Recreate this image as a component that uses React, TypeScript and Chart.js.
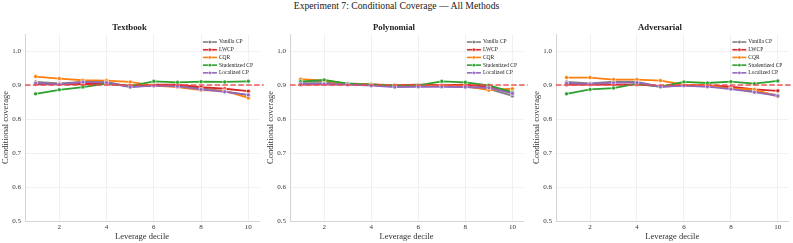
import React, { useEffect, useRef } from 'react';
import { Chart, registerables } from 'chart.js';

Chart.register(...registerables);

const FONT = '"Liberation Serif", "Times New Roman", serif';

const MAIN_TITLE = 'Experiment 7: Conditional Coverage — All Methods';
const PANEL_TITLES = ['Textbook', 'Polynomial', 'Adversarial'];
const X_LABEL = 'Leverage decile';
const Y_LABEL = 'Conditional coverage';

const DECILES = [1, 2, 3, 4, 5, 6, 7, 8, 9, 10];
const X_TICKS = [2, 4, 6, 8, 10];
const Y_TICKS = [0.5, 0.6, 0.7, 0.8, 0.9, 1.0];
const TARGET = 0.9;
const TARGET_SPAN = [0.55, 10.65];

const METHODS = ['Vanilla CP', 'LWCP', 'CQR', 'Studentized CP', 'Localized CP'];
const METHOD_COLORS = ['#7f7f7f', '#d62728', '#ff7f0e', '#2ca02c', '#9467bd'];

// Textbook
const TEXTBOOK_VANILLA = [0.909, 0.905, 0.909, 0.909, 0.895, 0.899, 0.898, 0.891, 0.881, 0.870];
const TEXTBOOK_LWCP = [0.902, 0.902, 0.903, 0.903, 0.898, 0.901, 0.901, 0.894, 0.889, 0.882];
const TEXTBOOK_CQR = [0.925, 0.919, 0.914, 0.913, 0.909, 0.898, 0.894, 0.885, 0.883, 0.862];
const TEXTBOOK_STUDENTIZED = [0.874, 0.886, 0.894, 0.904, 0.897, 0.911, 0.908, 0.910, 0.909, 0.911];
const TEXTBOOK_LOCALIZED = [0.905, 0.902, 0.909, 0.907, 0.894, 0.898, 0.896, 0.887, 0.880, 0.871];

// Polynomial
const POLY_VANILLA = [0.909, 0.909, 0.905, 0.902, 0.897, 0.897, 0.897, 0.895, 0.889, 0.868];
const POLY_LWCP = [0.901, 0.902, 0.902, 0.902, 0.900, 0.901, 0.900, 0.901, 0.895, 0.877];
const POLY_CQR = [0.917, 0.913, 0.904, 0.902, 0.898, 0.899, 0.898, 0.897, 0.885, 0.889];
const POLY_STUDENTIZED = [0.910, 0.915, 0.904, 0.901, 0.898, 0.899, 0.911, 0.908, 0.899, 0.879];
const POLY_LOCALIZED = [0.903, 0.903, 0.901, 0.898, 0.894, 0.895, 0.895, 0.894, 0.892, 0.875];

// Adversarial
const ADV_VANILLA = [0.909, 0.905, 0.910, 0.909, 0.895, 0.899, 0.897, 0.891, 0.881, 0.870];
const ADV_LWCP = [0.901, 0.901, 0.901, 0.901, 0.897, 0.900, 0.899, 0.895, 0.887, 0.883];
const ADV_CQR = [0.922, 0.922, 0.916, 0.916, 0.913, 0.901, 0.899, 0.889, 0.887, 0.866];
const ADV_STUDENTIZED = [0.874, 0.887, 0.891, 0.904, 0.895, 0.909, 0.906, 0.910, 0.904, 0.912];
const ADV_LOCALIZED = [0.905, 0.903, 0.907, 0.907, 0.895, 0.898, 0.895, 0.888, 0.879, 0.868];

const PANEL_SERIES = [
  [TEXTBOOK_VANILLA, TEXTBOOK_LWCP, TEXTBOOK_CQR, TEXTBOOK_STUDENTIZED, TEXTBOOK_LOCALIZED],
  [POLY_VANILLA, POLY_LWCP, POLY_CQR, POLY_STUDENTIZED, POLY_LOCALIZED],
  [ADV_VANILLA, ADV_LWCP, ADV_CQR, ADV_STUDENTIZED, ADV_LOCALIZED],
];

const PANEL_LAYOUT = [
  { left: 0, width: 264, padRight: 5 },
  { left: 265, width: 264, padRight: 6 },
  { left: 531, width: 262, padRight: 4 },
];

const legendPlugin = {
  id: 'methodLegend',
  afterDatasetsDraw(chart: any) {
    const { ctx, chartArea } = chart;
    ctx.save();
    ctx.font = `5.5px ${FONT}`;
    const maxW = Math.max(...METHODS.map((m) => ctx.measureText(m).width));
    const rowH = 7.7;
    const lineLen = 14;
    const textX = chartArea.right - 6 - maxW;
    const lineX0 = textX - 2 - lineLen;
    METHODS.forEach((m, i) => {
      const y = chartArea.top + 8 + i * rowH;
      ctx.strokeStyle = METHOD_COLORS[i];
      ctx.lineWidth = 1.6;
      ctx.setLineDash([]);
      ctx.beginPath();
      ctx.moveTo(lineX0, y);
      ctx.lineTo(lineX0 + lineLen, y);
      ctx.stroke();
      ctx.beginPath();
      ctx.arc(lineX0 + lineLen / 2, y, 1.7, 0, Math.PI * 2);
      ctx.fillStyle = METHOD_COLORS[i];
      ctx.fill();
      ctx.lineWidth = 0.6;
      ctx.strokeStyle = '#ffffff';
      ctx.stroke();
      ctx.fillStyle = '#222222';
      ctx.textAlign = 'left';
      ctx.textBaseline = 'middle';
      ctx.fillText(m, textX, y);
    });
    ctx.restore();
  },
};

function Panel({ idx }: { idx: number }) {
  const ref = useRef<HTMLCanvasElement | null>(null);
  const lay = PANEL_LAYOUT[idx];

  useEffect(() => {
    if (!ref.current) return;
    const series = PANEL_SERIES[idx];
    const datasets: any[] = [
      {
        label: 'target',
        data: TARGET_SPAN.map((x) => ({ x, y: TARGET })),
        borderColor: 'rgba(240, 70, 70, 0.9)',
        borderWidth: 1.5,
        borderDash: [5.5, 2.4],
        pointRadius: 0,
        clip: false,
        order: 0,
      },
    ];
    series.forEach((vals, i) => {
      datasets.push({
        label: METHODS[i],
        data: DECILES.map((d, j) => ({ x: d, y: vals[j] })),
        borderColor: METHOD_COLORS[i],
        backgroundColor: METHOD_COLORS[i],
        pointBackgroundColor: METHOD_COLORS[i],
        pointBorderColor: '#ffffff',
        pointBorderWidth: 0.6,
        pointRadius: 2,
        borderWidth: 1.8,
        tension: 0,
        order: METHODS.length - i,
      });
    });

    const tickFont = { family: FONT, size: 7 };
    const labelFont = { family: FONT, size: 8.5 };

    const chart = new Chart(ref.current, {
      type: 'line',
      data: { datasets },
      plugins: [legendPlugin],
      options: {
        animation: false,
        responsive: false,
        devicePixelRatio: 1,
        layout: { padding: { left: 0, right: lay.padRight, top: 0, bottom: 0 } },
        plugins: {
          legend: { display: false },
          tooltip: { enabled: false },
          title: {
            display: true,
            text: PANEL_TITLES[idx],
            color: '#222222',
            font: { family: FONT, size: 8.7, weight: 'bold' },
            padding: { top: 23, bottom: 0.6 },
          },
        },
        scales: {
          x: {
            type: 'linear',
            min: 0.55,
            max: 10.45,
            afterBuildTicks: (s: any) => {
              s.ticks = X_TICKS.map((v) => ({ value: v }));
            },
            afterFit: (s: any) => {
              s.height = 22;
            },
            ticks: {
              font: tickFont,
              color: '#333333',
              padding: 2,
              maxRotation: 0,
              callback: (v: any) => String(v),
            },
            grid: { color: '#ececec', lineWidth: 0.8, drawTicks: false },
            border: { display: true, color: '#d4d4d4', width: 1 },
            title: {
              display: true,
              text: X_LABEL,
              color: '#333333',
              font: labelFont,
              padding: { top: 0, bottom: 1.5 },
            },
          },
          y: {
            type: 'linear',
            min: 0.5,
            max: 1.05,
            afterBuildTicks: (s: any) => {
              s.ticks = Y_TICKS.map((v) => ({ value: v }));
            },
            afterFit: (s: any) => {
              s.width = 25;
            },
            ticks: {
              font: tickFont,
              color: '#333333',
              padding: 4,
              callback: (v: any) => Number(v).toFixed(1),
            },
            grid: { color: '#ececec', lineWidth: 0.8, drawTicks: false },
            border: { display: true, color: '#d4d4d4', width: 1 },
            title: {
              display: true,
              text: Y_LABEL,
              color: '#333333',
              font: labelFont,
              padding: { top: 0.6, bottom: 0 },
            },
          },
        },
      } as any,
    });
    return () => chart.destroy();
  }, [idx]);

  return (
    <canvas
      ref={ref}
      width={lay.width}
      height={243}
      style={{ position: 'absolute', left: lay.left, top: 0, width: lay.width, height: 243 }}
    />
  );
}

export default function App() {
  return (
    <div
      style={{
        position: 'fixed',
        left: 0,
        top: 0,
        width: 793,
        height: 243,
        background: '#ffffff',
        overflow: 'hidden',
      }}
    >
      <div
        style={{
          position: 'absolute',
          left: 0,
          top: 0,
          width: 793,
          textAlign: 'center',
          fontFamily: FONT,
          fontSize: '9.7px',
          lineHeight: '12px',
          color: '#222222',
        }}
      >
        {MAIN_TITLE}
      </div>
      {PANEL_TITLES.map((_, i) => (
        <Panel key={i} idx={i} />
      ))}
    </div>
  );
}
